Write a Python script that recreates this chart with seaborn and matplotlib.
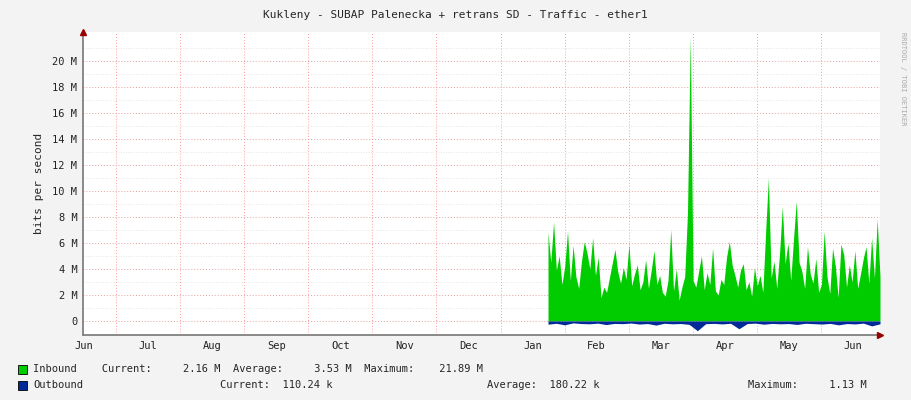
import numpy as np
import matplotlib
matplotlib.use("Agg")
import matplotlib.pyplot as plt
import seaborn as sns

months = ["Jun", "Jul", "Aug", "Sep", "Oct", "Nov", "Dec", "Jan", "Feb", "Mar", "Apr", "May", "Jun"]
# traffic in Mbit/s, from late January to end of June
inbound = [6.8, 4.5, 7.6, 3.9, 5.0, 2.8, 4.2, 6.9, 3.1, 5.8, 3.4, 2.5, 4.6, 6.1, 5.2, 4.0,
           6.4, 3.5, 4.9, 1.8, 2.6, 2.2, 3.3, 4.4, 5.5, 3.8, 2.9, 4.1, 3.2, 5.9, 2.7, 3.6,
           4.3, 2.4, 3.0, 4.7, 2.5, 3.9, 5.4, 2.8, 3.5, 2.2, 1.9, 3.1, 7.0, 2.3, 4.0, 1.6,
           2.6, 3.4, 8.3, 21.9, 3.1, 2.6, 3.8, 5.0, 2.4, 3.7, 2.8, 5.6, 2.3, 2.0, 3.2, 2.8,
           4.9, 6.1, 4.3, 3.5, 2.6, 3.9, 4.4, 2.4, 3.0, 1.9, 4.1, 2.7, 3.5, 2.2, 6.8, 11.0,
           3.3, 4.6, 2.5, 5.2, 8.8, 4.4, 6.0, 3.1, 6.3, 9.2, 4.5, 3.8, 2.5, 5.7, 3.6, 2.9,
           4.8, 2.2, 2.8, 6.9, 3.4, 2.1, 5.6, 4.2, 1.8, 5.9, 5.1, 2.6, 4.3, 3.0, 5.4, 2.5,
           3.6, 4.8, 5.7, 2.9, 6.4, 3.3, 7.8, 3.4]
outbound = [0.25, 0.18, 0.3, 0.15, 0.2, 0.22, 0.17, 0.28, 0.19, 0.21, 0.16, 0.24, 0.2, 0.32,
            0.18, 0.22, 0.2, 0.26, 0.75, 0.21, 0.19, 0.23, 0.18, 0.6, 0.2, 0.17, 0.25, 0.19,
            0.22, 0.2, 0.27, 0.18, 0.21, 0.24, 0.19, 0.3, 0.2, 0.23, 0.17, 0.38, 0.22]
data_start, data_end = 7.74, 12.92

sns.set_theme(style="white")
plt.rcParams["font.family"] = ["DejaVu Sans Mono"]
fig = plt.figure(figsize=(9.11, 4.0), dpi=100, facecolor="#f3f3f3")
ax = fig.add_axes([83 / 911, 65 / 400, 797 / 911, 303 / 400], facecolor="white")

x_in = np.linspace(data_start, data_end, len(inbound))
x_out = np.linspace(data_start, data_end, len(outbound))
ax.fill_between(x_in, 0, inbound, color="#00cc00", lw=0)
ax.fill_between(x_out, 0, -np.array(outbound), color="#002a97", lw=0)

ax.set_xlim(0.485, 12.92)
ax.set_ylim(-1.08, 22.2)
ax.set_xticks(np.arange(1, 13))
ax.set_xticklabels([])
ax.set_xticks(np.arange(0.5, 13), minor=True)
ax.set_xticklabels(months, minor=True)
ax.set_yticks(np.arange(0, 21, 2))
ax.set_yticklabels(["0"] + [f"{v} M" for v in range(2, 21, 2)])
ax.tick_params(axis="both", which="both", length=0, labelsize=7.5, colors="#222222", pad=4)
ax.grid(True, axis="x", which="major", color="#ff9999", ls=(0, (1, 2)), lw=0.7)
ax.grid(True, axis="y", which="major", color="#e6a0a0", ls=(0, (1, 2)), lw=0.7)
for v in range(1, 22, 2):
    ax.axhline(v, color="#dddddd", ls=(0, (1, 2)), lw=0.6, zorder=0)
for s in ax.spines.values():
    s.set_visible(False)
ax.axhline(-1.08, color="#777777", lw=1.2, clip_on=False)
ax.axvline(0.485, color="#777777", lw=1.2, clip_on=False)
ax.plot([12.92], [-1.08], marker=">", color="#990000", ms=4, clip_on=False)
ax.plot([0.485], [22.2], marker="^", color="#990000", ms=4, clip_on=False)
ax.set_ylabel("bits per second", fontsize=8, labelpad=6)

fig.text(0.5, 0.955, "Kukleny - SUBAP Palenecka + retrans SD - Traffic - ether1",
         ha="center", fontsize=8)
fig.text(0.988, 0.92, "RRDTOOL / TOBI OETIKER", rotation=270, fontsize=5,
         color="#aaaaaa", va="top")
fig.patches.append(plt.Rectangle((18 / 911, 1 - 374 / 400), 9 / 911, 9 / 400,
                                 transform=fig.transFigure, fc="#00cc00", ec="black", lw=0.6))
fig.patches.append(plt.Rectangle((18 / 911, 1 - 390 / 400), 9 / 911, 9 / 400,
                                 transform=fig.transFigure, fc="#002a97", ec="black", lw=0.6))
fig.text(33 / 911, 1 - 369 / 400,
         "Inbound    Current:     2.16 M  Average:     3.53 M  Maximum:    21.89 M",
         fontsize=7.5, va="center")
fig.text(33 / 911, 1 - 385 / 400, "Outbound", fontsize=7.5, va="center")
fig.text(220 / 911, 1 - 385 / 400, "Current:  110.24 k", fontsize=7.5, va="center")
fig.text(487 / 911, 1 - 385 / 400, "Average:  180.22 k", fontsize=7.5, va="center")
fig.text(748 / 911, 1 - 385 / 400, "Maximum:     1.13 M", fontsize=7.5, va="center")

fig.savefig("out.png", dpi=100, facecolor=fig.get_facecolor())
